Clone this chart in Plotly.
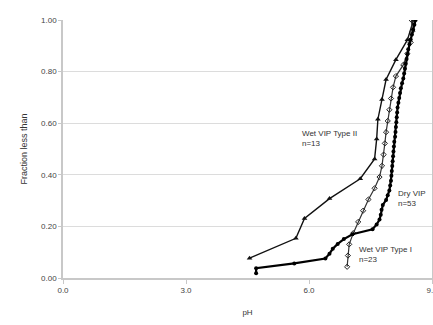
import plotly.graph_objects as go

# Wet VIP Type II (n=13)
type2_ph = [4.55, 5.68, 5.89, 6.50, 7.25, 7.60, 7.65, 7.68, 7.78, 7.88, 8.12, 8.40, 8.55]
type2_frac = [1/13, 2/13, 3/13, 4/13, 5/13, 6/13, 7/13, 8/13, 9/13, 10/13, 11/13, 12/13, 13/13]

# Wet VIP Type I (n=23)
type1_ph = [6.93, 6.95, 6.98, 7.08, 7.20, 7.32, 7.45, 7.60, 7.72, 7.78, 7.82, 7.85,
            7.88, 7.92, 7.96, 8.00, 8.05, 8.12, 8.30, 8.40, 8.48, 8.52, 8.50]
type1_frac = [k / 23 for k in range(1, 24)]

# Dry VIP (n=53)
dry_ph = [4.71, 4.71, 5.64, 6.40, 6.50, 6.58, 6.70, 6.85, 7.06, 7.55,
          7.65, 7.72, 7.75, 7.77, 7.80, 7.88, 7.92, 7.96, 7.98, 8.00,
          8.01, 8.02, 8.03, 8.04, 8.05, 8.06, 8.07, 8.08, 8.10, 8.11,
          8.12, 8.13, 8.14, 8.15, 8.16, 8.18, 8.20, 8.22, 8.24, 8.27,
          8.30, 8.32, 8.34, 8.36, 8.38, 8.40, 8.42, 8.45, 8.48, 8.51,
          8.54, 8.57, 8.60]
dry_frac = [k / 53 for k in range(1, 54)]

x_ticks = [0, 3, 6, 9]
x_tick_text = ["0.0", "3.0", "6.0", "9.0"]
y_ticks = [0, 0.2, 0.4, 0.6, 0.8, 1.0]
y_tick_text = ["0.00", "0.20", "0.40", "0.60", "0.80", "1.00"]

FONT = "Liberation Sans Narrow, Liberation Sans, Arial, sans-serif"

fig = go.Figure()
fig.add_trace(go.Scatter(x=type2_ph, y=type2_frac, mode="lines+markers",
                         line=dict(color="#111", width=1.4),
                         marker=dict(symbol="triangle-up", size=5, color="#111")))
fig.add_trace(go.Scatter(x=type1_ph, y=type1_frac, mode="lines+markers",
                         line=dict(color="#333", width=1.2),
                         marker=dict(symbol="diamond-open", size=4, color="#222",
                                     line=dict(width=1))))
fig.add_trace(go.Scatter(x=dry_ph, y=dry_frac, mode="lines+markers",
                         line=dict(color="#000", width=2.2),
                         marker=dict(symbol="circle", size=4, color="#000")))

ann_font = dict(family=FONT, size=8, color="#333")
fig.add_annotation(x=5.77, y=0.54, text="Wet VIP Type II<br>n=13", showarrow=False,
                   xanchor="left", yanchor="middle", align="left", font=ann_font)
fig.add_annotation(x=8.12, y=0.31, text="Dry VIP<br>n=53", showarrow=False,
                   xanchor="left", yanchor="middle", align="left", font=ann_font)
fig.add_annotation(x=7.18, y=0.093, text="Wet VIP Type I<br>n=23", showarrow=False,
                   xanchor="left", yanchor="middle", align="left", font=ann_font)

fig.update_layout(
    width=433, height=325,
    margin=dict(l=63, r=1, t=20, b=47, autoexpand=False),
    paper_bgcolor="white", plot_bgcolor="white",
    showlegend=False,
    font=dict(family=FONT, size=8, color="#444"),
    xaxis=dict(range=[0, 9], tickvals=x_ticks, ticktext=x_tick_text,
               ticklabeloverflow="allow", automargin=False,
               showgrid=False, zeroline=False, showline=True, linecolor="#c8c8c8",
               linewidth=1.5, ticks="outside", ticklen=4, tickcolor="#c8c8c8",
               title=dict(text="pH", font=dict(family=FONT, size=8, color="#333"),
                          standoff=15)),
    yaxis=dict(range=[0, 1], tickvals=y_ticks, ticktext=y_tick_text,
               automargin=False,
               showgrid=True, gridcolor="#dcdcdc", gridwidth=1.2, zeroline=False,
               showline=True, linecolor="#c8c8c8", linewidth=1.5, mirror=True,
               ticks="outside", ticklen=3, tickcolor="#c8c8c8",
               title=dict(text="Fraction less than",
                          font=dict(family=FONT, size=9, color="#333"), standoff=12)),
)

fig.write_html("out.html")
